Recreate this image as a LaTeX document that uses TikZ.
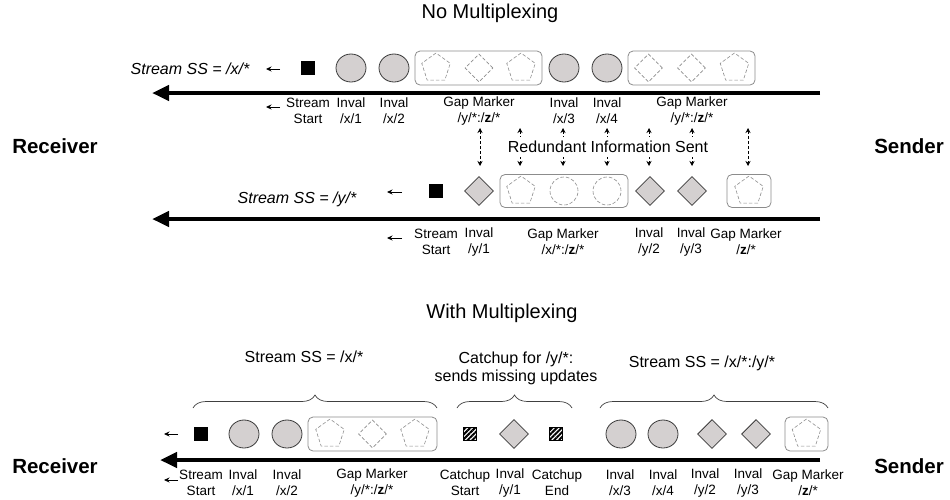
\documentclass[tikz,border=0pt]{standalone}
\usepackage{fontspec}
\setmainfont{Liberation Sans}
\usetikzlibrary{arrows.meta,shapes.geometric,patterns.meta,decorations.pathreplacing}
\definecolor{shapefill}{RGB}{212,208,208}
\definecolor{shapeedge}{RGB}{60,60,60}
\definecolor{boxgray}{RGB}{140,140,140}
\tikzset{
  inval/.style={ellipse, draw=shapeedge, line width=0.8pt, fill=shapefill, minimum width=30pt, minimum height=28pt, inner sep=0pt},
  yinval/.style={diamond, draw=shapeedge, line width=0.8pt, fill=shapefill, minimum width=29pt, minimum height=29pt, inner sep=0pt},
  startsq/.style={fill=black, minimum size=14pt, inner sep=0pt},
  catchsq/.style={draw=black, pattern={Lines[angle=45,distance=3.4pt,line width=2pt]}, minimum size=13pt, inner sep=0pt},
  gapbox/.style={draw=boxgray, line width=0.8pt, rounded corners=5pt, minimum height=34pt, inner sep=0pt},
  ghostpent/.style={regular polygon, regular polygon sides=5, draw=boxgray, line width=0.6pt, dash pattern=on 3.5pt off 2pt, minimum size=30pt, inner sep=0pt},
  ghostdiam/.style={diamond, draw=boxgray, line width=0.6pt, dash pattern=on 3.5pt off 2pt, minimum width=28pt, minimum height=28pt, inner sep=0pt},
  ghostcirc/.style={circle, draw=boxgray, line width=0.6pt, dash pattern=on 3.5pt off 2pt, minimum size=28pt, inner sep=0pt},
  lbl/.style={font=\fontsize{13.5}{16}\selectfont, align=center, inner sep=0pt},
  wire/.style={line width=4.5pt, -{Triangle[length=17pt,width=15pt]}},
  tick/.style={line width=0.8pt, -{Stealth[length=5.5pt,width=5pt]}},
  redund/.style={dash pattern=on 3pt off 2pt, line width=0.6pt, {Stealth[length=5pt,width=5pt]}-{Stealth[length=5pt,width=5pt]}},
  side/.style={font=\fontsize{20.5}{24}\selectfont\bfseries},
  heading/.style={font=\fontsize{20}{24}\selectfont},
  mid/.style={font=\fontsize{16}{18}\selectfont, align=center},
  curly/.style={draw=black!75, line width=0.7pt, decorate, decoration={brace, amplitude=13pt}}
}
\begin{document}
\begin{tikzpicture}[x=1pt, y=-1pt]
  \useasboundingbox (0,0) rectangle (950,499);

  % no multiplexing
  \node[heading] (title1) at (490,13) {No Multiplexing};
  \node[side] (recv1) at (55,146) {Receiver};
  \node[side] (send1) at (909,146) {Sender};

  % stream /x/*
  \node[mid, font=\fontsize{16}{18}\selectfont\itshape] (ssx) at (190,69) {Stream SS = /x/*};
  \coordinate (ta1) at (280,69);
  \coordinate (tb1) at (266,69);
  \draw[tick] (ta1) -- (tb1);
  \node[startsq] (sx) at (308,68) {};
  \node[inval] (x1) at (351,68) {};
  \node[inval] (x2) at (394,68) {};
  \node[gapbox, minimum width=127pt] (gx1) at (478.5,68) {};
  \node[ghostpent] (gx1a) at (436,68) {};
  \node[ghostdiam] (gx1b) at (479,68) {};
  \node[ghostpent] (gx1c) at (521,68) {};
  \node[inval] (x3) at (564,68) {};
  \node[inval] (x4) at (607,68) {};
  \node[gapbox, minimum width=127pt] (gx2) at (691.5,68) {};
  \node[ghostdiam] (gx2a) at (648.5,68) {};
  \node[ghostdiam] (gx2b) at (691.5,68) {};
  \node[ghostpent] (gx2c) at (734.5,68) {};
  \coordinate (snd1) at (820,93);
  \coordinate (rcv1) at (152,93);
  \draw[wire] (snd1) -- (rcv1);
  \coordinate (la1) at (280,107);
  \coordinate (lb1) at (266,107);
  \draw[tick] (la1) -- (lb1);
  \node[lbl] (lsx) at (308,111) {Stream\\Start};
  \node[lbl] (lx1) at (351,111) {Inval\\/x/1};
  \node[lbl] (lx2) at (394,111) {Inval\\/x/2};
  \node[lbl] (lgx1) at (479,111) {Gap Marker\\/y/*:/\textbf{z}/*};
  \node[lbl] (lx3) at (564,111) {Inval\\/x/3};
  \node[lbl] (lx4) at (607,111) {Inval\\/x/4};
  \node[lbl] (lgx2) at (692,111) {Gap Marker\\/y/*:/\textbf{z}/*};

  % redundant arrows
  \foreach \n/\xx in {1/480,2/520,3/563,4/607,5/649,6/692,7/748} {
    \coordinate (up\n) at (\xx,128);
    \coordinate (dn\n) at (\xx,166);
    \draw[redund] (up\n) -- (dn\n);
  }
  \node[mid, fill=white, inner xsep=1pt, inner ysep=4pt] (redtext) at (608,147) {Redundant Information Sent};

  % stream /y/*
  \node[mid, font=\fontsize{16}{18}\selectfont\itshape] (ssy) at (297,199) {Stream SS = /y/*};
  \coordinate (ta2) at (402,192);
  \coordinate (tb2) at (387,192);
  \draw[tick] (ta2) -- (tb2);
  \node[startsq] (sy) at (436,191) {};
  \node[yinval] (y1) at (479,191) {};
  \node[gapbox, minimum width=128pt, minimum height=33pt] (gy1) at (564,191) {};
  \node[ghostpent] (gy1a) at (521,191) {};
  \node[ghostcirc] (gy1b) at (564,191) {};
  \node[ghostcirc] (gy1c) at (607,191) {};
  \node[yinval] (y2) at (650,191) {};
  \node[yinval] (y3) at (692,191) {};
  \node[gapbox, minimum width=44pt, minimum height=33pt] (gy2) at (749,191) {};
  \node[ghostpent] (gy2a) at (749,191) {};
  \coordinate (snd2) at (820,219);
  \coordinate (rcv2) at (152,219);
  \draw[wire] (snd2) -- (rcv2);
  \coordinate (la2) at (402,238);
  \coordinate (lb2) at (387,238);
  \draw[tick] (la2) -- (lb2);
  \node[lbl] (lsy) at (436,242) {Stream\\Start};
  \node[lbl] (ly1) at (479,242) {Inval\\/y/1};
  \node[lbl] (lgy1) at (563,242) {Gap Marker\\/x/*:/\textbf{z}/*};
  \node[lbl] (ly2) at (649,242) {Inval\\/y/2};
  \node[lbl] (ly3) at (691,242) {Inval\\/y/3};
  \node[lbl] (lgy2) at (746,242) {Gap Marker\\/\textbf{z}/*};

  % with multiplexing
  \node[heading] (title2) at (502,313) {With Multiplexing};
  \node[side] (recv2) at (55,466) {Receiver};
  \node[side] (send2) at (909,466) {Sender};

  \node[mid] (bx) at (304,357) {Stream SS = /x/*};
  \node[mid] (bc) at (516,368) {Catchup for /y/*:\\sends missing updates};
  \node[mid] (bxy) at (702,363) {Stream SS = /x/*:/y/*};
  \coordinate (br1a) at (193,408);
  \coordinate (br1b) at (437,408);
  \coordinate (br2a) at (457,408);
  \coordinate (br2b) at (572,408);
  \coordinate (br3a) at (600,408);
  \coordinate (br3b) at (828,408);
  \draw[curly] (br1a) -- (br1b);
  \draw[curly] (br2a) -- (br2b);
  \draw[curly] (br3a) -- (br3b);

  \coordinate (ta3) at (178,434);
  \coordinate (tb3) at (164,434);
  \draw[tick] (ta3) -- (tb3);
  \node[startsq] (sm) at (201,434) {};
  \node[inval] (m1) at (244,434) {};
  \node[inval] (m2) at (287,434) {};
  \node[gapbox, minimum width=129pt] (gm1) at (372.5,434) {};
  \node[ghostpent] (gm1a) at (330,434) {};
  \node[ghostdiam] (gm1b) at (372.5,434) {};
  \node[ghostpent] (gm1c) at (415,434) {};
  \node[catchsq] (cs) at (470,434) {};
  \node[yinval] (m3) at (514,434) {};
  \node[catchsq] (ce) at (556,434) {};
  \node[inval] (m4) at (621,434) {};
  \node[inval] (m5) at (663,434) {};
  \node[yinval] (m6) at (712,434) {};
  \node[yinval] (m7) at (756,434) {};
  \node[gapbox, minimum width=43pt] (gm2) at (806.5,434) {};
  \node[ghostpent] (gm2a) at (806.5,434) {};
  \coordinate (snd3) at (820,460);
  \coordinate (rcv3) at (160,460);
  \draw[wire] (snd3) -- (rcv3);
  \coordinate (la3) at (178,480);
  \coordinate (lb3) at (164,480);
  \draw[tick] (la3) -- (lb3);
  \node[lbl] (lsm) at (201,483) {Stream\\Start};
  \node[lbl] (lm1) at (243,483) {Inval\\/x/1};
  \node[lbl] (lm2) at (287,483) {Inval\\/x/2};
  \node[lbl] (lgm1) at (372,483) {Gap Marker\\/y/*:/\textbf{z}/*};
  \node[lbl] (lcs) at (465,483) {Catchup\\Start};
  \node[lbl] (lm3) at (510,483) {Inval\\/y/1};
  \node[lbl] (lce) at (557,483) {Catchup\\End};
  \node[lbl] (lm4) at (620,483) {Inval\\/x/3};
  \node[lbl] (lm5) at (663,483) {Inval\\/x/4};
  \node[lbl] (lm6) at (705,483) {Inval\\/y/2};
  \node[lbl] (lm7) at (748,483) {Inval\\/y/3};
  \node[lbl] (lgm2) at (808,483) {Gap Marker\\/\textbf{z}/*};
\end{tikzpicture}
\end{document}
